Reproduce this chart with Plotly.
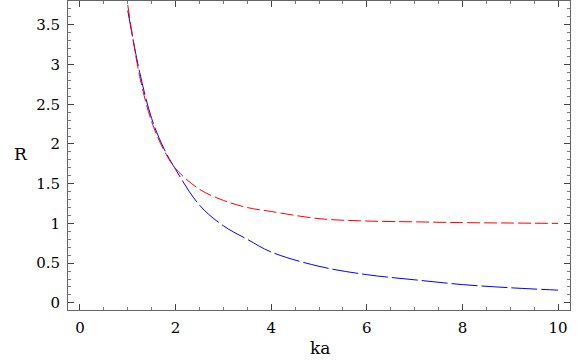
import plotly.graph_objects as go

ka = [1, 1.25, 1.5, 1.75, 2, 2.5, 3, 3.5, 4, 5, 6, 7, 8, 9, 10]
r_red = [3.75, 2.85, 2.28, 1.93, 1.69, 1.43, 1.29, 1.20, 1.15, 1.06, 1.03, 1.02, 1.01, 1.005, 1.0]
r_blue = [3.68, 2.90, 2.32, 1.95, 1.68, 1.23, 0.97, 0.80, 0.64, 0.46, 0.355, 0.29, 0.23, 0.19, 0.16]

font = "DejaVu Serif"

fig = go.Figure()
fig.add_trace(go.Scatter(x=ka, y=r_blue, mode="lines",
                         line=dict(color="#0000ff", width=1, dash="26px,4px", shape="spline", smoothing=1.0)))
fig.add_trace(go.Scatter(x=ka, y=r_red, mode="lines",
                         line=dict(color="#ff0000", width=1, dash="13px,4px", shape="spline", smoothing=1.0)))

axis_common = dict(
    showgrid=False, zeroline=False, showline=True, linecolor="#666", linewidth=1,
    mirror="allticks", ticks="inside", ticklen=6, tickcolor="#444", tickwidth=1,
    tickfont=dict(family=font, size=15, color="black"),
)

fig.update_xaxes(range=[-0.25, 10.25], tickvals=[0, 2, 4, 6, 8, 10], ticklabelstandoff=4,
                 minor=dict(ticks="inside", dtick=0.5, tick0=0, ticklen=3, tickcolor="#777", tickwidth=1),
                 **axis_common)
fig.update_yaxes(range=[-0.09, 3.80], tickvals=[0, 0.5, 1, 1.5, 2, 2.5, 3, 3.5],
                 ticktext=["0", "0.5", "1", "1.5", "2", "2.5", "3", "3.5"], ticklabelstandoff=4,
                 minor=dict(ticks="inside", dtick=0.1, tick0=0, ticklen=3, tickcolor="#777", tickwidth=1),
                 **axis_common)

fig.add_annotation(text="R", xref="paper", yref="paper", x=-0.093, y=0.506, showarrow=False,
                   xanchor="center", yanchor="middle", font=dict(family=font, size=17, color="black"))
fig.add_annotation(text="ka", xref="paper", yref="paper", x=0.502, y=-0.123, showarrow=False,
                   xanchor="center", yanchor="middle", font=dict(family=font, size=17, color="black"))

fig.update_layout(
    width=582, height=360, showlegend=False,
    margin=dict(l=68, r=12, t=1, b=50),
    paper_bgcolor="white", plot_bgcolor="white",
)

fig.write_html("out.html", config={"displayModeBar": False},
               post_script="document.body.style.margin='0';")
